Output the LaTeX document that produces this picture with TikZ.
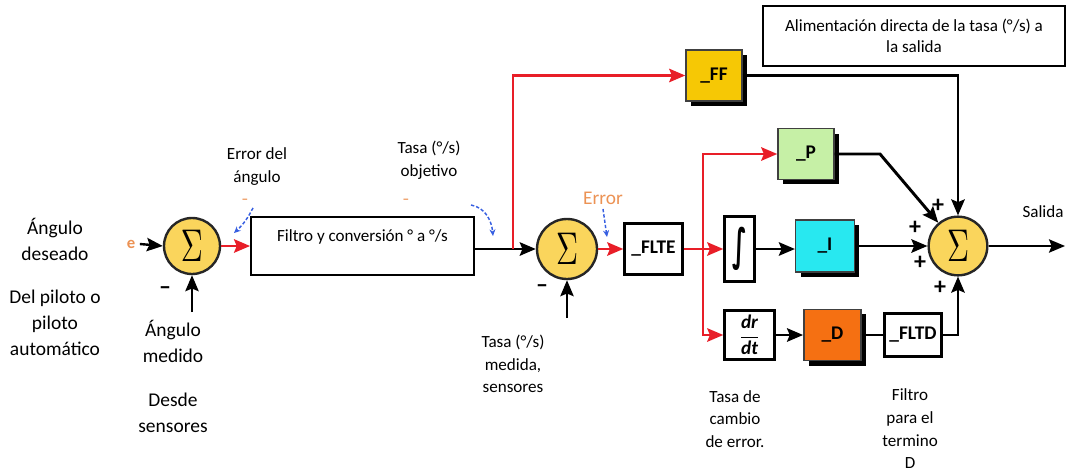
\documentclass[tikz,border=0pt]{standalone}
\usepackage{fontspec}
\setmainfont{Carlito}
\newfontfamily\symfont{DejaVu Sans}
\usepackage{graphicx}
\usetikzlibrary{arrows.meta, positioning, shadows}

\definecolor{sumyellow}{RGB}{250,213,92}
\definecolor{ffgold}{RGB}{246,200,5}
\definecolor{pgreen}{RGB}{198,240,166}
\definecolor{icyan}{RGB}{40,232,240}
\definecolor{dorange}{RGB}{245,112,18}
\definecolor{sigred}{RGB}{232,30,40}
\definecolor{noteorange}{RGB}{236,146,84}
\definecolor{hintblue}{RGB}{55,95,225}

\newcommand{\sumsign}{\resizebox{16.5pt}{23.5pt}{$\Sigma$}}

\begin{document}
\begin{tikzpicture}[
    x=0.75pt, y=-0.75pt,
    lbl/.style={align=center, font=\fontsize{12.8}{17}\selectfont},
    biglbl/.style={align=center, font=\fontsize{14.6}{19.5}\selectfont},
    sumnode/.style={circle, draw=black!85, line width=1.8pt, fill=sumyellow, inner sep=0pt},
    gain/.style={rectangle, draw=black!75, line width=1.1pt, inner sep=2pt,
                 font=\fontsize{14.5}{16}\selectfont\bfseries,
                 drop shadow={shadow xshift=3.75pt, shadow yshift=-3.75pt, fill=black, opacity=1}},
    opbox/.style={rectangle, draw, line width=2.3pt, fill=white, inner sep=2pt,
                  font=\fontsize{14.5}{16}\selectfont\bfseries},
    note/.style={rectangle, draw, line width=1.6pt, align=center, font=\fontsize{12.8}{15.75}\selectfont},
    pmsign/.style={font=\fontsize{18}{18}\selectfont\bfseries, inner sep=0pt},
    arrow/.style={-{Stealth[length=12pt, width=10pt, inset=2pt]}, line width=2.2pt},
    redarrow/.style={arrow, sigred},
    hintarrow/.style={hintblue, dash pattern=on 2.5pt off 1.5pt, line width=1.1pt,
                      -{Stealth[length=5pt, width=4.5pt]}}
]
\useasboundingbox (0,0) rectangle (1068,472);

% Summing junctions
\node[sumnode, minimum size=42pt] (sumAng) at (192,246) {\sumsign};
\node[sumnode, minimum size=45pt] (sumRate) at (567,249) {\sumsign};
\node[sumnode, minimum size=44pt] (sumOut) at (958,246) {\sumsign};

% Notes
\node[note, minimum width=167pt, minimum height=44pt, text depth=16pt] (filtro) at (362.5,246) {Filtro y conversión ° a °/s};
\node[note, minimum width=226pt, minimum height=45pt] (feedNote) at (914,36) {Alimentación directa de la tasa (°/s) a\\la salida};

% Gains
\node[gain, fill=ffgold, minimum width=42pt, minimum height=38.5pt] (ff) at (714,75.5) {\_FF};
\node[gain, fill=pgreen, minimum width=42pt, minimum height=38pt] (kp) at (806,154) {\_P};
\node[gain, fill=icyan, minimum width=44pt, minimum height=39pt] (ki) at (825,246) {\_I};
\node[gain, fill=dorange, minimum width=43pt, minimum height=38.5pt] (kd) at (832.5,335) {\_D};

% Filters and operators
\node[opbox, minimum width=43pt, minimum height=38pt] (flte) at (653.5,249) {\_FLTE};
\node[opbox, minimum width=22pt, minimum height=48.5pt] (integ) at (739.5,249) {\resizebox{11pt}{25pt}{\symfont\itshape ∫}};
\node[opbox, minimum width=37pt, minimum height=37pt] (deriv) at (749.5,335) {$\displaystyle\frac{\mbox{\bfseries\itshape dr}}{\mbox{\bfseries\itshape dt}}$};
\node[opbox, minimum width=42.5pt, minimum height=32pt, line width=1.8pt] (fltd) at (913,335) {\_FLTD};

% Labels
\node[biglbl] (angDes) at (55,239.5) {Ángulo\\deseado};
\node[biglbl] (delPil) at (55,323) {Del piloto o\\piloto\\automático};
\node[biglbl] (angMed) at (173,341) {Ángulo\\medido};
\node[biglbl] (desde) at (173,413) {Desde\\sensores};
\node[lbl] (errAng) at (257,166.5) {Error del\\ángulo};
\node[lbl] (tasaObj) at (429,160) {Tasa (°/s)\\objetivo};
\node[lbl] (tasaMed) at (513,364) {Tasa (°/s)\\medida,\\sensores};
\node[lbl] (tasaCam) at (735,419) {Tasa de\\cambio\\de error.};
\node[lbl] (filtroD) at (910,429) {Filtro\\para el\\termino\\D};
\node[lbl] (salida) at (1043,212) {Salida};
\node[font=\fontsize{12.5}{12.5}\selectfont\bfseries, text=noteorange] (eIn) at (131,244) {e};
\node[font=\fontsize{14.5}{16}\selectfont, text=noteorange] (errRate) at (603,198) {Error};
\node[font=\bfseries, text=noteorange] (angTick) at (245,201) {\textendash};
\node[font=\bfseries, text=noteorange] (tasaTick) at (406,201) {\textendash};

% Signs
\node[pmsign] (minusAng) at (165,291) {\textendash};
\node[pmsign] (minusRate) at (542,289) {\textendash};
\node[pmsign] (plusP) at (938,206) {+};
\node[pmsign] (plusI) at (915,228) {+};
\node[pmsign] (plusFF) at (920,263) {+};
\node[pmsign] (plusD) at (940,288) {+};

% Branch points
\coordinate (angFb) at (192,312);
\coordinate (rateFb) at (567,318);
\coordinate (ffSplit) at (513,249);
\coordinate (pdSplit) at (703,249);
\coordinate (pBend) at (880,154);
\coordinate (outEnd) at (1065,246);
\coordinate (hintAng) at (234,233);
\coordinate (hintObjA) at (471,205);
\coordinate (hintObjB) at (493,236);
\coordinate (hintErr) at (607,237);

% Angle loop
\draw[arrow, line width=1.8pt] (eIn.east) -- (sumAng.west);
\draw[arrow, line width=1.5pt] (angFb) -- (sumAng.south);
\draw[redarrow] (sumAng.east) -- (filtro.west);
\draw[arrow] (filtro.east |- sumRate.west) -- (sumRate.west);

% Rate loop
\draw[redarrow] (ffSplit) |- (ff.west);
\draw[arrow, line width=1.5pt] (rateFb) -- (sumRate.south);
\draw[redarrow] (sumRate.east) -- (flte.west);
\draw[redarrow] (flte.east) -- (integ.west);
\draw[redarrow] (pdSplit) |- (kp.west);
\draw[redarrow] (pdSplit) |- (deriv.west);
\draw[arrow] (integ.east) -- (integ.east -| ki.west);
\draw[arrow] (deriv.east) -- (kd.west);
\draw[line width=2.2pt] (kd.east) -- (fltd.west);

% Output sum
\draw[arrow] (fltd.east) -| (sumOut.south);
\draw[arrow] (ki.east) -- (sumOut.west);
\draw[arrow] (kp.east) -- (pBend) -- (sumOut);
\draw[arrow] (ff.east) -| (sumOut.north);
\draw[arrow, line width=1.4pt] (sumOut.east) -- (outEnd);

% Hints
\draw[hintarrow] (angTick.south east) to[bend left=10] (hintAng);
\draw[hintarrow] (hintObjA) to[out=-10, in=95] (hintObjB);
\draw[hintarrow] (errRate.south) -- (hintErr);

\end{tikzpicture}
\end{document}
